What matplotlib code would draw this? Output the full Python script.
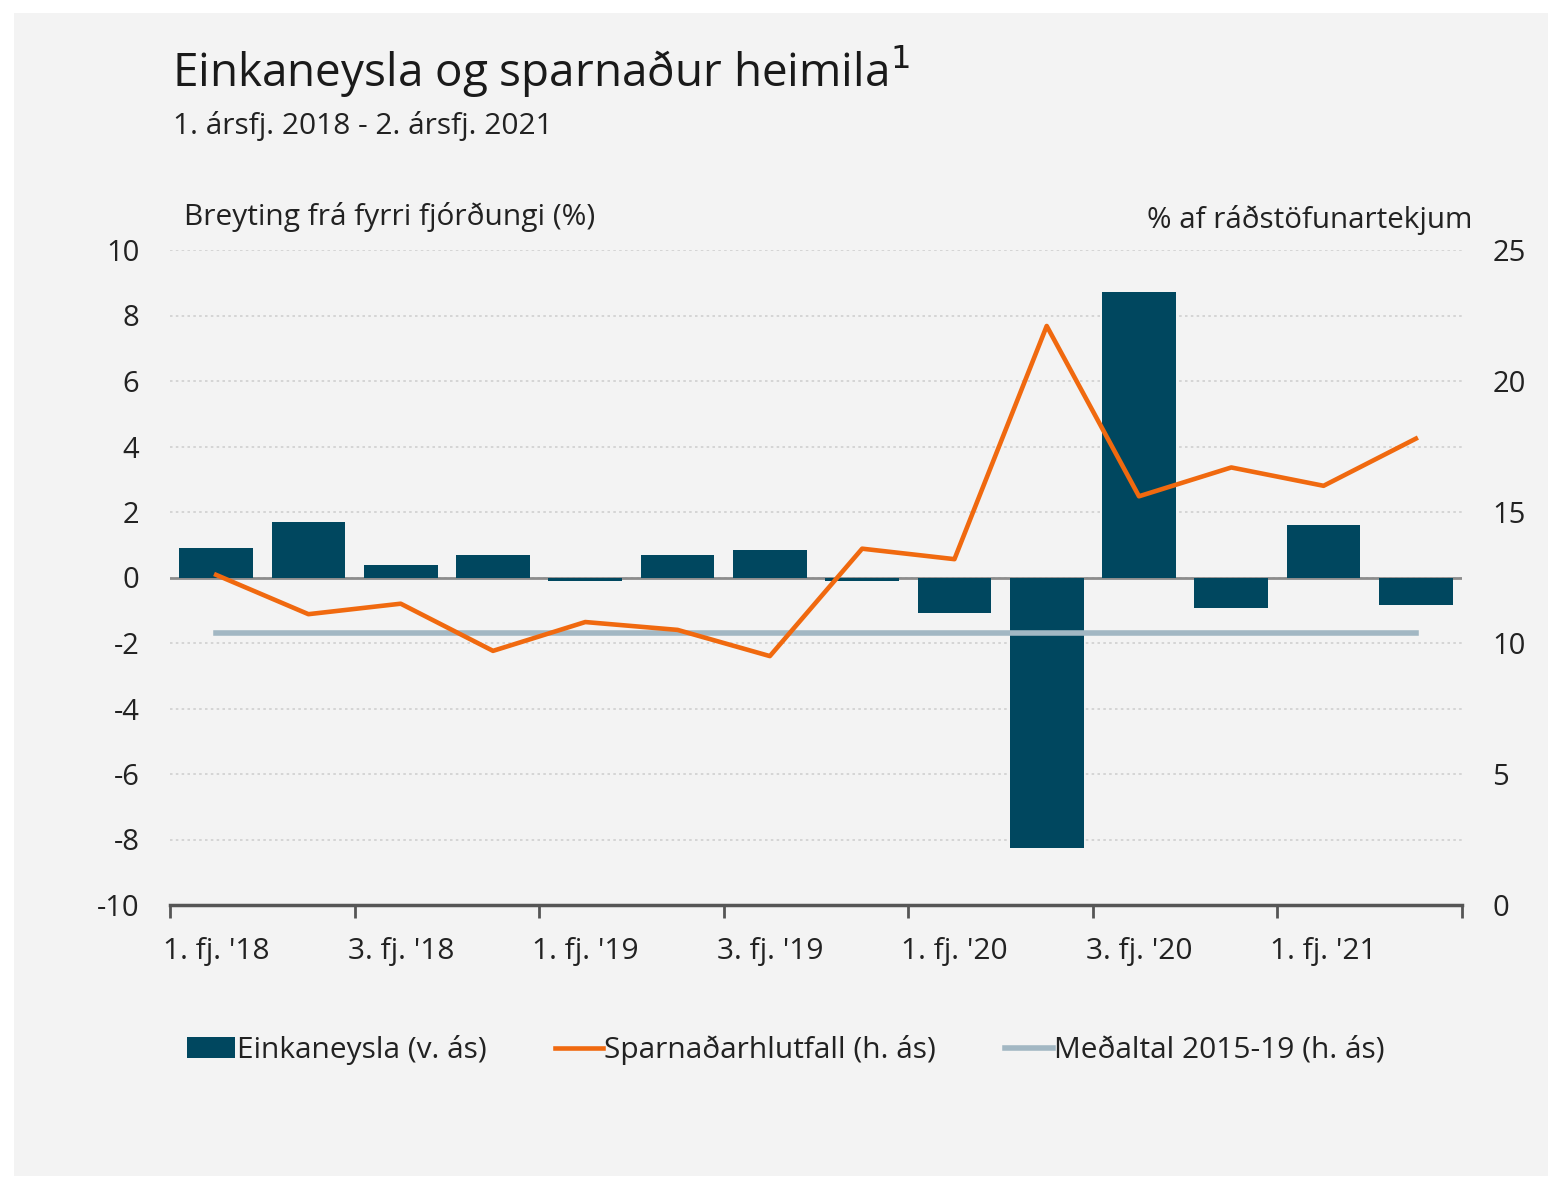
import matplotlib.pyplot as plt
import matplotlib.patches as mpatches
import numpy as np

plt.rcParams['font.family'] = ['Open Sans', 'DejaVu Sans']
plt.rcParams['axes.unicode_minus'] = False

# Data
quarters = ["1. fj. '18", "2. fj. '18", "3. fj. '18", "4. fj. '18",
            "1. fj. '19", "2. fj. '19", "3. fj. '19", "4. fj. '19",
            "1. fj. '20", "2. fj. '20", "3. fj. '20", "4. fj. '20",
            "1. fj. '21", "2. fj. '21"]
einkaneysla = [0.9, 1.7, 0.38, 0.68, -0.12, 0.68, 0.85, -0.12,
               -1.08, -8.27, 8.72, -0.93, 1.6, -0.85]
sparnadur = [12.6, 11.1, 11.5, 9.7, 10.8, 10.5, 9.5, 13.6,
             13.2, 22.1, 15.6, 16.7, 16.0, 17.8]
medaltal = 10.4

bar_color = '#00475f'
line_color = '#f0690f'
mean_color = '#a2b7c3'
text_color = '#222222'

fig = plt.figure(figsize=(15.55, 11.78), dpi=100)
fig.patch.set_facecolor('white')
fig.patches.append(mpatches.Rectangle((14 / 1555, 1 - 1176 / 1178), 1534 / 1555, 1163 / 1178,
                                      transform=fig.transFigure, facecolor='#f3f3f3',
                                      edgecolor='none', zorder=0))

ax = fig.add_axes([170 / 1555, 1 - 905 / 1178, 1292 / 1555, 655 / 1178])
ax.set_facecolor('none')
x = np.arange(len(quarters))

ax.bar(x, einkaneysla, width=0.8, color=bar_color, zorder=2, label='Einkaneysla (v. ás)')
ax.axhline(0, color='#8c8c8c', lw=2, zorder=1)
ax.set_ylim(-10, 10)
ax.set_yticks(range(-10, 11, 2))
ax.set_xlim(-0.5, len(quarters) - 0.5)
ax.yaxis.grid(True, linestyle=(0, (1.5, 2)), color='#cfcfcf', lw=1.2, zorder=0)
ax.set_axisbelow(True)

ax2 = ax.twinx()
ax2.plot(x, sparnadur, color=line_color, lw=3.3, zorder=4, label='Sparnaðarhlutfall (h. ás)')
ax2.plot([x[0], x[-1]], [medaltal, medaltal], color=mean_color, lw=4, zorder=3,
         label='Meðaltal 2015-19 (h. ás)')
ax2.set_ylim(0, 25)
ax2.set_yticks(range(0, 26, 5))

# the line sits on top of the bars
ax.set_zorder(1)
ax2.set_zorder(2)
ax2.patch.set_visible(False)

for a in (ax, ax2):
    for s in ('top', 'left', 'right', 'bottom'):
        a.spines[s].set_visible(False)
ax.spines['bottom'].set_visible(True)
ax.spines['bottom'].set_color('#555555')
ax.spines['bottom'].set_linewidth(2.5)

ax.tick_params(axis='y', length=0, pad=22, labelsize=21, labelcolor=text_color)
ax2.tick_params(axis='y', length=0, pad=22, labelsize=21, labelcolor=text_color)

# tick marks on boundaries every two quarters, labels on odd quarters
ax.set_xticks(np.arange(-0.5, len(quarters), 2))
ax.set_xticklabels([])
ax.tick_params(axis='x', which='major', length=9, width=2, color='#555555', direction='out')
ax.set_xticks(x[::2], minor=True)
ax.set_xticklabels(quarters[::2], minor=True)
ax.tick_params(axis='x', which='minor', length=0, pad=23, labelsize=21.5, labelcolor=text_color)

fig.text(172 / 1555, 1 - 72 / 1178, 'Einkaneysla og sparnaður heimila$^1$', fontsize=33,
         color='#1a1a1a', va='center', ha='left')
fig.text(173 / 1555, 1 - 126 / 1178, '1. ársfj. 2018 - 2. ársfj. 2021', fontsize=21.5,
         color=text_color, va='center', ha='left')
fig.text(184 / 1555, 1 - 217 / 1178, 'Breyting frá fyrri fjórðungi (%)', fontsize=21.5,
         color=text_color, va='center', ha='left')
fig.text(1472 / 1555, 1 - 220 / 1178, '% af ráðstöfunartekjum', fontsize=21.3,
         color=text_color, va='center', ha='right')

handles = [ax.containers[0]] + ax2.get_lines()
labels = [h.get_label() for h in handles]
fig.legend(handles, labels, loc='center', bbox_to_anchor=(786 / 1555, 1 - 1050 / 1178),
           ncol=3, frameon=False, fontsize=21.5, handlelength=1.6, handletextpad=0.05,
           columnspacing=2.3, labelcolor=text_color)

fig.savefig('out.png', dpi=100, facecolor=fig.get_facecolor())
